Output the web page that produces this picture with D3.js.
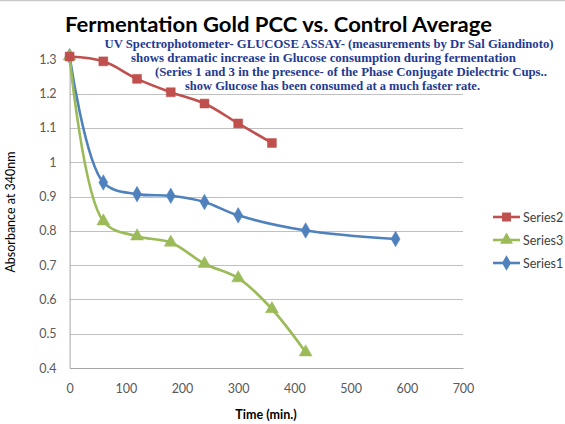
<!DOCTYPE html>
<html><head><meta charset="utf-8">
<script src="https://cdn.jsdelivr.net/npm/d3@7"></script>
<style>body{margin:0;background:#fff}svg{display:block}</style>
</head><body>
<svg id="c" width="565" height="424"></svg>
<script>
const timesSeries1 = [0, 60, 120, 180, 240, 300, 420, 580];
const valuesSeries1 = [1.309, 0.941, 0.907, 0.902, 0.884, 0.845, 0.801, 0.776];
const timesSeries2 = [0, 60, 120, 180, 240, 300, 360];
const valuesSeries2 = [1.308, 1.294, 1.243, 1.204, 1.171, 1.113, 1.056];
const timesSeries3 = [0, 60, 120, 180, 240, 300, 360, 420];
const valuesSeries3 = [1.309, 0.828, 0.784, 0.766, 0.704, 0.662, 0.572, 0.446];
const xTicks = [0, 100, 200, 300, 400, 500, 600, 700];
const yTicks = [0.4, 0.5, 0.6, 0.7, 0.8, 0.9, 1, 1.1, 1.2, 1.3];
const legendNames = ["Series2", "Series3", "Series1"];
const titleText = "Fermentation Gold PCC vs. Control Average";
const noteLines = [
  "UV Spectrophotometer- GLUCOSE ASSAY- (measurements by Dr Sal Giandinoto)",
  "shows dramatic increase in Glucose consumption during fermentation",
  "(Series 1 and 3 in the presence- of the Phase Conjugate Dielectric Cups..",
  "show Glucose has been consumed at a much faster rate."
];

const svg = d3.select("#c");
const x = d3.scaleLinear().domain([0, 700]).range([69.6, 463]);
const y = d3.scaleLinear().domain([0.4, 1.3]).range([368, 59.3]);

// top border
svg.append("line").attr("x1",0).attr("x2",565).attr("y1",0.5).attr("y2",0.5)
  .attr("stroke","#c8c8c8").attr("stroke-width",1.5);

// gridlines
svg.append("g").selectAll("line").data(yTicks.filter(d => d > 0.4 && d < 1.3)).join("line")
  .attr("x1", x(0)).attr("x2", x(700))
  .attr("y1", d => Math.round(y(d)) + 0.5).attr("y2", d => Math.round(y(d)) + 0.5)
  .attr("stroke", "#c0c0c0").attr("stroke-width", 1);

// axes
const yAxis = d3.axisLeft(y).tickValues(yTicks).tickSize(0).tickPadding(13)
  .tickFormat(d => d3.format("")(+d.toFixed(1)));
const gy = svg.append("g").attr("transform", `translate(${x(0)},0)`).call(yAxis);
gy.select(".domain").attr("stroke", "#a6a6a6");
gy.selectAll("text").attr("font-family", "Lato, 'Open Sans', sans-serif").attr("font-size", 12.5).attr("fill", "#595959");

const xAxis = d3.axisBottom(x).tickValues(xTicks).tickSize(0).tickPadding(16);
const gx = svg.append("g").attr("transform", `translate(0,${y(0.4)})`).call(xAxis);
gx.select(".domain").attr("stroke", "#a6a6a6");
gx.selectAll("text").attr("font-family", "Lato, 'Open Sans', sans-serif").attr("font-size", 12.5).attr("fill", "#595959");

// axis titles
svg.append("text").attr("transform", "translate(15,212) rotate(-90)")
  .attr("text-anchor", "middle").attr("font-family", "Lato, 'Open Sans', sans-serif")
  .attr("font-size", 12.5).attr("fill", "#000").text("Absorbance at 340nm");
svg.append("text").attr("x", 266).attr("y", 419)
  .attr("text-anchor", "middle").attr("font-family", "Lato, 'Open Sans', sans-serif")
  .attr("font-weight", "bold").attr("font-size", 12.5).attr("fill", "#000").text("Time (min.)");

// series
const series = [
  {name: "Series2", t: timesSeries2, v: valuesSeries2, color: "#C0504D", sym: d3.symbolSquare, size: 80},
  {name: "Series3", t: timesSeries3, v: valuesSeries3, color: "#9BBB59", sym: d3.symbolTriangle, size: 72},
  {name: "Series1", t: timesSeries1, v: valuesSeries1, color: "#4F81BD", sym: d3.symbolDiamond, size: 70}
];
const line = d3.line().x(d => x(d[0])).y(d => y(d[1])).curve(d3.curveCatmullRom.alpha(0.5));
const drawOrder = [series[2], series[1], series[0]];
drawOrder.forEach(s => {
  const pts = s.t.map((t, i) => [t, s.v[i]]);
  svg.append("path").datum(pts).attr("d", line).attr("fill", "none")
    .attr("stroke", s.color).attr("stroke-width", 2.6).attr("stroke-linejoin", "round");
  svg.append("g").selectAll("path").data(pts).join("path")
    .attr("d", d3.symbol().type(s.sym).size(s.size))
    .attr("transform", d => `translate(${x(d[0])},${y(d[1])})`)
    .attr("fill", s.color).attr("stroke", s.color).attr("stroke-width", 0.5);
});

// legend
const lg = svg.append("g");
legendNames.forEach((n, i) => {
  const s = series.find(q => q.name === n);
  const ly = 217 + i * 23;
  lg.append("line").attr("x1", 493).attr("x2", 520).attr("y1", ly).attr("y2", ly)
    .attr("stroke", s.color).attr("stroke-width", 2.6);
  lg.append("path").attr("d", d3.symbol().type(s.sym).size(s.size)())
    .attr("transform", `translate(506.5,${ly})`).attr("fill", s.color);
  lg.append("text").attr("x", 523).attr("y", ly + 4.5)
    .attr("font-family", "Lato, 'Open Sans', sans-serif").attr("font-size", 12.5)
    .attr("fill", "#404040").text(n);
});

// title
svg.append("text").attr("x", 65).attr("y", 32)
  .attr("font-family", "Lato, 'Open Sans', sans-serif").attr("font-weight", "bold")
  .attr("font-size", 21).attr("fill", "#000")
  .attr("textLength", 427).attr("lengthAdjust", "spacingAndGlyphs").text(titleText);

// note text
const noteX = [104.5, 131, 155, 185];
const noteW = [449, 385, 392, 295];
const noteY = [48, 62, 76, 90];
noteLines.forEach((t, i) => {
  svg.append("text").attr("x", noteX[i]).attr("y", noteY[i])
    .attr("font-family", "'Liberation Serif', 'DejaVu Serif', serif").attr("font-weight", "bold")
    .attr("font-size", 12.5).attr("fill", "#1F3A93")
    .attr("textLength", noteW[i]).attr("lengthAdjust", "spacingAndGlyphs").text(t);
});
</script>
</body></html>
